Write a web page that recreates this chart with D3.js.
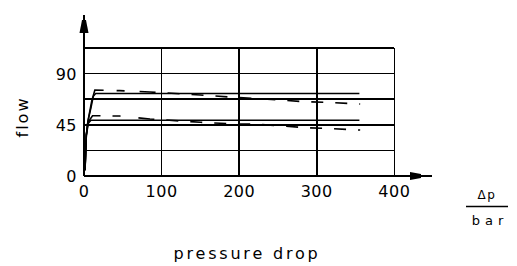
<!DOCTYPE html>
<html>
<head>
<meta charset="utf-8">
<script src="https://cdn.jsdelivr.net/npm/d3@7"></script>
<style>
html,body{margin:0;padding:0;background:#fff;}
svg{display:block;}
text{font-family:"DejaVu Sans",sans-serif;fill:#000;}
</style>
</head>
<body>
<svg id="chart" width="517" height="266"></svg>
<script>
// ---- data ----
const xTicks = [0, 100, 200, 300, 400];
const yTickLabels = [0, 45, 90];
const yGrid = [22.5, 45, 67.5, 90, 112.5];

const solidUpperP = [1.3, 3, 5, 9, 12, 15, 355];
const solidUpperQ = [5, 36, 48, 60, 70, 72.5, 72.5];

const solidLowerP = [1.3, 3, 5, 9, 355];
const solidLowerQ = [5, 36, 46, 49, 49];

const dashedUpperP = [1.3, 3, 5, 10, 14, 46, 85, 150, 188, 216, 285, 317, 356];
const dashedUpperQ = [5, 36, 48, 66, 75.6, 75, 73.8, 71.2, 69.4, 68.3, 65.3, 64.6, 63.3];

const dashedLowerP = [1.3, 3, 6, 11, 46, 85, 150, 195, 218, 285, 317, 356];
const dashedLowerQ = [5, 36, 48, 53, 52.7, 50.1, 47.2, 45.7, 45.7, 42.5, 41.7, 40.4];

const xLabel = "pressure drop";
const yLabel = "flow";
const unitTop = "Δp";
const unitBottom = "bar";

// ---- drawing ----
const svg = d3.select("#chart");
const x = d3.scaleLinear().domain([0, 400]).range([84, 394.3]);
const y = d3.scaleLinear().domain([0, 112.5]).range([176, 48]);

// grid
const g = svg.append("g").attr("stroke", "#000").attr("stroke-width", 1.6).attr("shape-rendering", "crispEdges");
g.selectAll("line.h").data(yGrid).join("line")
  .attr("x1", x(0)).attr("x2", x(400))
  .attr("y1", d => y(d)).attr("y2", d => y(d));
g.selectAll("line.v").data(xTicks.slice(1)).join("line")
  .attr("x1", d => x(d)).attr("x2", d => x(d))
  .attr("y1", y(0)).attr("y2", y(112.5));

// axes
svg.append("line").attr("x1", x(0)).attr("x2", x(0)).attr("y1", y(0)).attr("y2", 15)
  .attr("stroke", "#000").attr("stroke-width", 2);
svg.append("line").attr("x1", x(0)).attr("x2", 432).attr("y1", y(0)).attr("y2", y(0))
  .attr("stroke", "#000").attr("stroke-width", 2);
// arrowheads
svg.append("path").attr("d", "M82,20 L86,20 L88.5,33 L79.5,33 Z").attr("fill", "#000");
svg.append("path").attr("d", "M410,172 L410,180 L421,178 L421,174 Z").attr("fill", "#000");

// axis tick labels
svg.selectAll("text.xt").data(xTicks).join("text")
  .attr("x", d => x(d)).attr("y", 197)
  .attr("text-anchor", "middle")
  .attr("font-size", 16).attr("letter-spacing", 0.5)
  .text(d => d);
svg.selectAll("text.yt").data(yTickLabels).join("text")
  .attr("x", 77).attr("y", d => y(d) + 6)
  .attr("text-anchor", "end")
  .attr("font-size", 16).attr("letter-spacing", 0.5)
  .text(d => d);

// curves
const line = d3.line().x(d => x(d[0])).y(d => y(d[1]));
function series(P, Q) { return P.map((p, i) => [p, Q[i]]); }

svg.append("path").datum(series(solidUpperP, solidUpperQ))
  .attr("d", line).attr("fill", "none").attr("stroke", "#000").attr("stroke-width", 1.5);
svg.append("path").datum(series(solidLowerP, solidLowerQ))
  .attr("d", line).attr("fill", "none").attr("stroke", "#000").attr("stroke-width", 1.5);
svg.append("path").datum(series(dashedUpperP, dashedUpperQ))
  .attr("d", line).attr("fill", "none").attr("stroke", "#000").attr("stroke-width", 1.6)
  .attr("stroke-dasharray", "90,13,8,15,16,12,12,12,12,12,12,12,12,12,12,12,12,12,12,12,12,12,12,12,12,12,12,12,12,12");
svg.append("path").datum(series(dashedLowerP, dashedLowerQ))
  .attr("d", line).attr("fill", "none").attr("stroke", "#000").attr("stroke-width", 1.6)
  .attr("stroke-dasharray", "64,12,8,18,16,12,12,12,12,12,12,12,12,12,12,12,12,12,12,12,12,12,12,12,12,12,12,12,12,12");

// labels
svg.append("text").attr("transform", "translate(28,117) rotate(-90)")
  .attr("text-anchor", "middle").attr("font-size", 16).attr("letter-spacing", 2)
  .text(yLabel);
svg.append("text").attr("x", 247).attr("y", 259)
  .attr("text-anchor", "middle").attr("font-size", 16).attr("letter-spacing", 2.8)
  .text(xLabel);
svg.append("text").attr("x", 487).attr("y", 199)
  .attr("text-anchor", "middle").attr("font-size", 12).attr("letter-spacing", 1.5)
  .text(unitTop);
svg.append("line").attr("x1", 466).attr("x2", 508).attr("y1", 206.5).attr("y2", 206.5)
  .attr("stroke", "#000").attr("stroke-width", 1.5);
svg.append("text").attr("x", 490).attr("y", 225)
  .attr("text-anchor", "middle").attr("font-size", 13).attr("letter-spacing", 5)
  .text(unitBottom);
</script>
</body>
</html>
